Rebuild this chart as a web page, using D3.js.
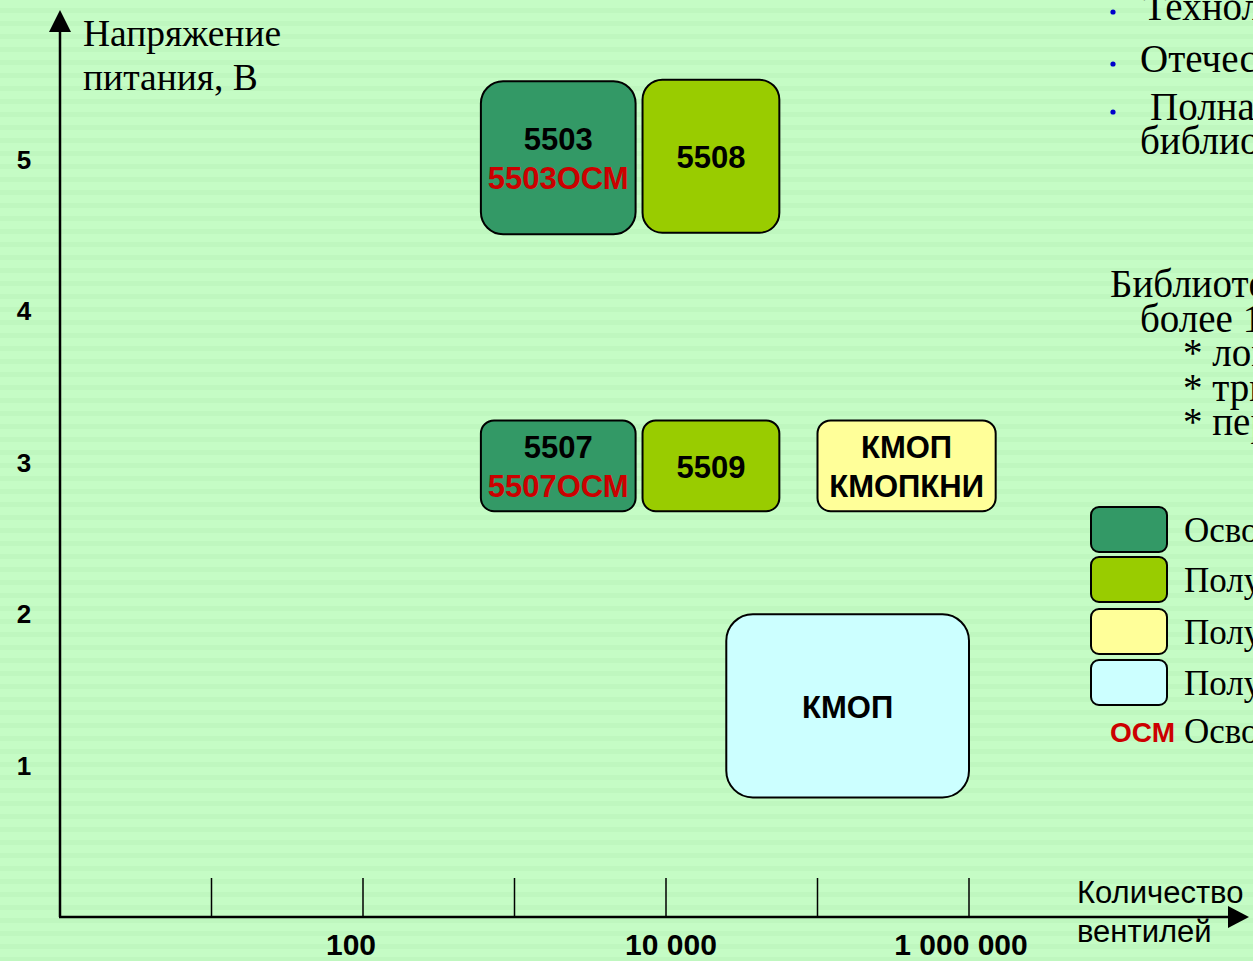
<!DOCTYPE html>
<html lang="ru">
<head>
<meta charset="utf-8">
<script src="https://cdn.jsdelivr.net/npm/d3@7"></script>
<style>
  html, body { margin: 0; padding: 0; overflow: hidden; background: #c4fcc4; }
  svg { display: block; }
</style>
</head>
<body>
<svg id="chart" width="1253" height="961"></svg>
<script>
// Families of gate-array series: gate count range (log axis) vs supply voltage range
const families   = ["5503", "5508", "5507", "5509", "КМОП-КМОПКНИ", "КМОП"];
const gateMin    = [600, 7000, 600, 7000, 100000, 25000];
const gateMax    = [6300, 56000, 6300, 56000, 1500000, 1000000];
const voltMin    = [4.51, 4.52, 2.68, 2.68, 2.68, 0.79];
const voltMax    = [5.52, 5.53, 3.28, 3.28, 3.28, 2.0];
const mainLines  = [["5503"], ["5508"], ["5507"], ["5509"], ["КМОП", "КМОПКНИ"], ["КМОП"]];
const osmLines   = ["5503ОСМ", "", "5507ОСМ", "", "", ""];
const statusIdx  = [0, 1, 0, 1, 2, 3];

const statusNames  = ["Освоены в производстве", "Получены опытные образцы", "Получены технические решения", "Получены результаты исследований"];
const statusColors = ["#339966", "#99cc00", "#ffff99", "#ccffff"];
const osmNote      = "Освоены для ОСМ";

const xTickValues = [10, 100, 1000, 10000, 100000, 1000000];
const xTickLabels = ["", "100", "", "10 000", "", "1 000 000"];
const yTickValues = [1, 2, 3, 4, 5];

const bulletLines = ["Технология КМОП", "Отечественная элементная база", "Полная"];
const bulletCont  = "библиотека";
const libLines    = ["Библиотека элементов", "более 100 элементов:", "* логические", "* триггеры", "* периферийные"];

const svg = d3.select("#chart");
const W = 1253, H = 961;

// striped slide background
const defs = svg.append("defs");
const pat = defs.append("pattern").attr("id", "stripes")
  .attr("patternUnits", "userSpaceOnUse").attr("width", 20).attr("height", 13);
pat.append("rect").attr("width", 20).attr("height", 13).attr("fill", "#c5fcc5");
pat.append("rect").attr("y", 8).attr("width", 20).attr("height", 5).attr("fill", "#bff7bf");
svg.append("rect").attr("width", W).attr("height", H).attr("fill", "url(#stripes)");

// scales
const x = d3.scaleLog().domain([1, 1e6]).range([60, 969]);
const y = d3.scaleLinear().domain([0, 5]).range([917, 160]);
const x0 = x(1), y0 = y(0);

// axes
const axes = svg.append("g").attr("stroke", "#000");
axes.append("line").attr("x1", x0).attr("y1", y0).attr("x2", x0).attr("y2", 28).attr("stroke-width", 2.5);
axes.append("line").attr("x1", x0 - 1).attr("y1", y0).attr("x2", 1230).attr("y2", y0).attr("stroke-width", 2.5);
svg.append("path").attr("d", `M${x0},10 L${x0 - 11},32 L${x0 + 11},32 Z`).attr("fill", "#000");
svg.append("path").attr("d", `M1249,${y0} L1228,${y0 - 11} L1228,${y0 + 11} Z`).attr("fill", "#000");

// x ticks
svg.append("g").selectAll("line").data(xTickValues).join("line")
  .attr("x1", d => x(d)).attr("x2", d => x(d))
  .attr("y1", y0 - 39).attr("y2", y0)
  .attr("stroke", "#000").attr("stroke-width", 1.5);

// tick label nudges (px) so each label sits where the slide placed it
const xLabelShift = [0, -12, 0, 5, 0, -8];
svg.append("g").selectAll("text").data(xTickValues).join("text")
  .attr("x", (d, i) => x(d) + xLabelShift[i]).attr("y", 955)
  .attr("text-anchor", "middle")
  .attr("font-family", "Liberation Sans, Arial, sans-serif")
  .attr("font-weight", "bold").attr("font-size", 30)
  .text((d, i) => xTickLabels[i]);

// y tick labels
svg.append("g").selectAll("text").data(yTickValues).join("text")
  .attr("x", 24).attr("y", d => y(d) + 9)
  .attr("text-anchor", "middle")
  .attr("font-family", "Liberation Sans, Arial, sans-serif")
  .attr("font-weight", "bold").attr("font-size", 26)
  .text(d => d);

// axis titles
const serif = "Liberation Serif, Times New Roman, serif";
const yTitle = svg.append("text").attr("font-family", serif).attr("font-size", 37.5);
yTitle.append("tspan").attr("x", 83).attr("y", 46).text("Напряжение");
yTitle.append("tspan").attr("x", 83).attr("y", 90).text("питания, В");

const xTitle = svg.append("text").attr("font-family", "Liberation Sans, Arial, sans-serif").attr("font-size", 31);
xTitle.append("tspan").attr("x", 1077).attr("y", 903).text("Количество");
xTitle.append("tspan").attr("x", 1077).attr("y", 942).text("вентилей");

// family boxes
const boxes = svg.append("g").selectAll("g").data(families).join("g");
boxes.append("rect")
  .attr("x", (d, i) => x(gateMin[i]))
  .attr("y", (d, i) => y(voltMax[i]))
  .attr("width", (d, i) => x(gateMax[i]) - x(gateMin[i]))
  .attr("height", (d, i) => y(voltMin[i]) - y(voltMax[i]))
  .attr("rx", (d, i) => 0.145 * Math.min(x(gateMax[i]) - x(gateMin[i]), y(voltMin[i]) - y(voltMax[i])))
  .attr("fill", (d, i) => statusColors[statusIdx[i]])
  .attr("stroke", "#000").attr("stroke-width", 2);

boxes.each(function (d, i) {
  const g = d3.select(this);
  const cx = (x(gateMin[i]) + x(gateMax[i])) / 2;
  const cy = (y(voltMin[i]) + y(voltMax[i])) / 2;
  const lines = mainLines[i].map(t => ({ t, c: "#000" }));
  if (osmLines[i]) lines.push({ t: osmLines[i], c: "#cc0000" });
  const step = 39;
  const first = cy + 12 - step * (lines.length - 1) / 2;
  g.selectAll("text").data(lines).join("text")
    .attr("x", cx).attr("y", (l, k) => first + k * step)
    .attr("text-anchor", "middle")
    .attr("font-family", "Liberation Sans, Arial, sans-serif")
    .attr("font-weight", "bold").attr("font-size", 31)
    .attr("fill", l => l.c)
    .text(l => l.t);
});

// right-hand notes
const notes = svg.append("g").attr("font-family", serif).attr("font-size", 39);
const bulletY = [20, 72, 120];
const bulletX = [1143, 1140, 1150];
notes.selectAll("circle").data(bulletLines).join("circle")
  .attr("cx", 1113).attr("cy", (d, i) => bulletY[i] - 8).attr("r", 2.6).attr("fill", "#0000cc");
notes.selectAll("text.b").data(bulletLines).join("text").attr("class", "b")
  .attr("x", (d, i) => bulletX[i]).attr("y", (d, i) => bulletY[i]).text(d => d);
notes.append("text").attr("x", 1140).attr("y", 154).text(bulletCont);

const libX = [1110, 1140, 1183, 1183, 1183];
notes.selectAll("text.l").data(libLines).join("text").attr("class", "l")
  .attr("x", (d, i) => libX[i]).attr("y", (d, i) => 297 + i * 34.5).text(d => d);

// legend
const legTop = [507, 557, 609, 660];
const legend = svg.append("g");
legend.selectAll("rect").data(statusNames).join("rect")
  .attr("x", 1091).attr("y", (d, i) => legTop[i])
  .attr("width", 76).attr("height", 45).attr("rx", 8)
  .attr("fill", (d, i) => statusColors[i])
  .attr("stroke", "#000").attr("stroke-width", 2);
legend.selectAll("text").data(statusNames).join("text")
  .attr("x", 1184).attr("y", (d, i) => legTop[i] + 35)
  .attr("font-family", serif).attr("font-size", 35)
  .text(d => d);
legend.append("text").attr("x", 1110).attr("y", 742)
  .attr("font-family", "Liberation Sans, Arial, sans-serif")
  .attr("font-weight", "bold").attr("font-size", 28).attr("fill", "#cc0000")
  .text("ОСМ");
legend.append("text").attr("x", 1184).attr("y", 743)
  .attr("font-family", serif).attr("font-size", 35)
  .text(osmNote);
</script>
</body>
</html>
